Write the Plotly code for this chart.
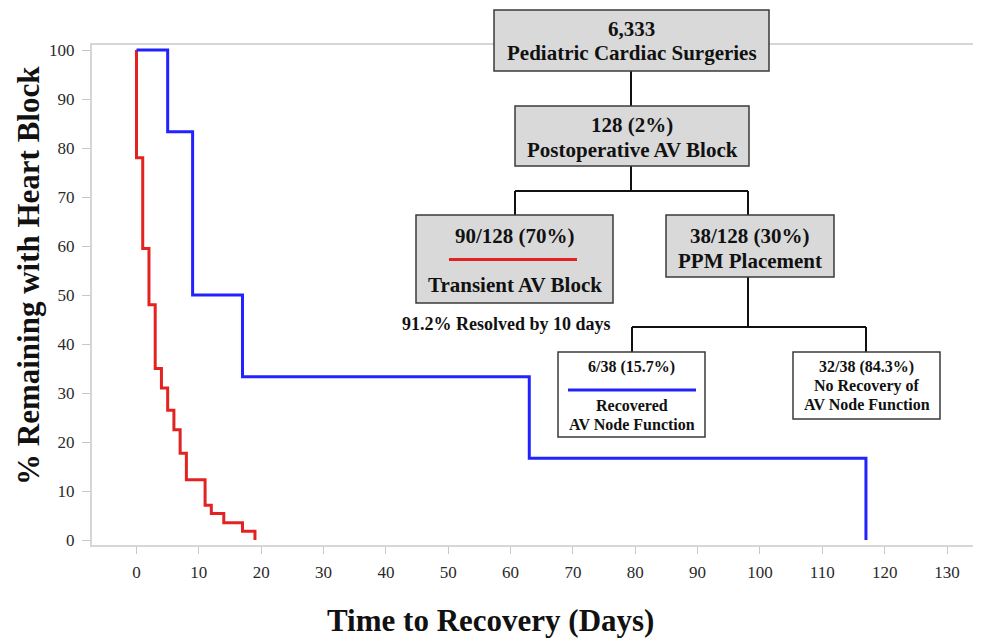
import plotly.graph_objects as go

# ---- data ----
transient_days = [0, 0, 1, 2, 3, 4, 5, 6, 7, 8, 11, 12, 14, 17, 19]
transient_pct = [100, 78, 59.5, 48, 35, 31, 26.5, 22.5, 17.7, 12.3, 7.1, 5.4, 3.5, 1.8, 0]
recovered_days = [0, 5, 9, 17, 63, 117]
recovered_pct = [100, 83.3, 50, 33.3, 16.7, 0]
x_ticks = list(range(0, 140, 10))
y_ticks = list(range(0, 110, 10))

# page is rendered with an 8px body margin; target coordinates below are page pixels
OFF = 8
PAGE_W, PAGE_H = 981, 641
W, H = PAGE_W - OFF, PAGE_H - OFF
FRAME_L, FRAME_T, FRAME_B = 92, 45, 545
L, R, T = FRAME_L - OFF, 0, FRAME_T - OFF
B = H - (FRAME_B - OFF)
PW, PH = W - L - R, H - T - B

def px(x):
    return (x - OFF - L) / PW

def py(y):
    return 1 - (y - OFF - T) / PH

RED = "#e32222"
BLUE = "#2222ff"
SERIF = "Liberation Serif, Times New Roman, serif"

fig = go.Figure()
fig.add_trace(go.Scatter(x=transient_days, y=transient_pct, mode="lines",
                         line=dict(color=RED, width=3, shape="hv"), showlegend=False))
fig.add_trace(go.Scatter(x=recovered_days, y=recovered_pct, mode="lines",
                         line=dict(color=BLUE, width=3, shape="hv"), showlegend=False))

shapes = []
annotations = []

def box(x0, y0, x1, y1, fill):
    shapes.append(dict(type="rect", xref="paper", yref="paper", layer="above",
                       x0=px(x0), x1=px(x1), y0=py(y1), y1=py(y0),
                       fillcolor=fill, line=dict(color="#3a3a3a", width=1.5)))

def seg(x0, y0, x1, y1, color="#111111", width=2):
    shapes.append(dict(type="line", xref="paper", yref="paper", layer="above",
                       x0=px(x0), x1=px(x1), y0=py(y0), y1=py(y1),
                       line=dict(color=color, width=width)))

def text(x, y, s, size, bold=True):
    annotations.append(dict(xref="paper", yref="paper", x=px(x), y=py(y),
                            text=("<b>%s</b>" % s) if bold else s, showarrow=False,
                            xanchor="center", yanchor="middle",
                            font=dict(family=SERIF, size=size, color="#111111")))

GREY = "#d9d9d9"
BIG = 21
SMALL = 16
# connectors
seg(631, 71, 631, 106)
seg(631, 166, 631, 191)
seg(515, 191, 748, 191)
seg(515, 191, 515, 215)
seg(748, 191, 748, 215)
seg(748, 277, 748, 327)
seg(632, 327, 866, 327)
seg(632, 327, 632, 352)
seg(866, 327, 866, 352)

# boxes
box(494, 10, 769, 71, GREY)
text(631.5, 29, "6,333", BIG)
text(631.5, 53, "Pediatric Cardiac Surgeries", BIG)

box(515, 106, 749, 166, GREY)
text(632, 125, "128 (2%)", BIG)
text(632, 150, "Postoperative AV Block", BIG)

box(416, 215, 613, 303, GREY)
text(514.5, 236, "90/128 (70%)", BIG)
seg(449, 259.5, 577, 259.5, color=RED, width=3)
text(514.5, 285, "Transient AV Block", BIG)

box(666, 215, 834, 277, GREY)
text(750, 236, "38/128 (30%)", BIG)
text(750, 261, "PPM Placement", BIG)

text(506, 324, "91.2% Resolved by 10 days", 18)

box(558, 352, 705, 437, "white")
text(631.5, 367, "6/38 (15.7%)", SMALL)
seg(568, 390, 696, 390, color=BLUE, width=3)
text(631.5, 405, "Recovered", SMALL)
text(631.5, 424, "AV Node Function", SMALL)

box(793, 352, 940, 419, "white")
text(866.5, 367, "32/38 (84.3%)", SMALL)
text(866.5, 386, "No Recovery of", SMALL)
text(866.5, 404.5, "AV Node Function", SMALL)

# axis titles
annotations.append(dict(xref="paper", yref="paper", x=px(28), y=py(276), textangle=-90,
                        text="<b>% Remaining with Heart Block</b>", showarrow=False,
                        xanchor="center", yanchor="middle",
                        font=dict(family=SERIF, size=31, color="#111111")))
annotations.append(dict(xref="paper", yref="paper", x=px(490), y=py(620),
                        text="<b>Time to Recovery (Days)</b>", showarrow=False,
                        xanchor="center", yanchor="middle",
                        font=dict(family=SERIF, size=31, color="#111111")))

# axis calibration (page pixels of tick positions)
x0_px, x130_px = 136.5, 947.0
ppd = (x130_px - x0_px) / 130
xr = [(FRAME_L - x0_px) / ppd, (PAGE_W - x0_px) / ppd]
y0_px, y100_px = 540.0, 50.0
ppu = (y0_px - y100_px) / 100
yr = [(y0_px - FRAME_B) / ppu, (y0_px - FRAME_T) / ppu]

axis_line = "#d6d6d6"
fig.update_layout(
    width=W, height=H,
    margin=dict(l=L, r=R, t=T, b=B),
    plot_bgcolor="white", paper_bgcolor="white",
    shapes=shapes, annotations=annotations,
    xaxis=dict(range=xr, tickvals=x_ticks, ticktext=[str(v) for v in x_ticks],
               showgrid=False, zeroline=False, showline=True, mirror=True,
               linecolor=axis_line, linewidth=2, ticks="outside", ticklen=7,
               tickcolor="#c8c8c8", tickwidth=1, ticklabelstandoff=4,
               tickfont=dict(family=SERIF, size=17, color="#2a2a2a")),
    yaxis=dict(range=yr, tickvals=y_ticks, ticktext=[str(v) for v in y_ticks],
               showgrid=False, zeroline=False, showline=True,
               linecolor=axis_line, linewidth=2, ticks="outside", ticklen=8,
               tickcolor="#c8c8c8", tickwidth=1, ticklabelstandoff=4,
               tickfont=dict(family=SERIF, size=17, color="#2a2a2a")),
)

fig.write_html("out.html")
